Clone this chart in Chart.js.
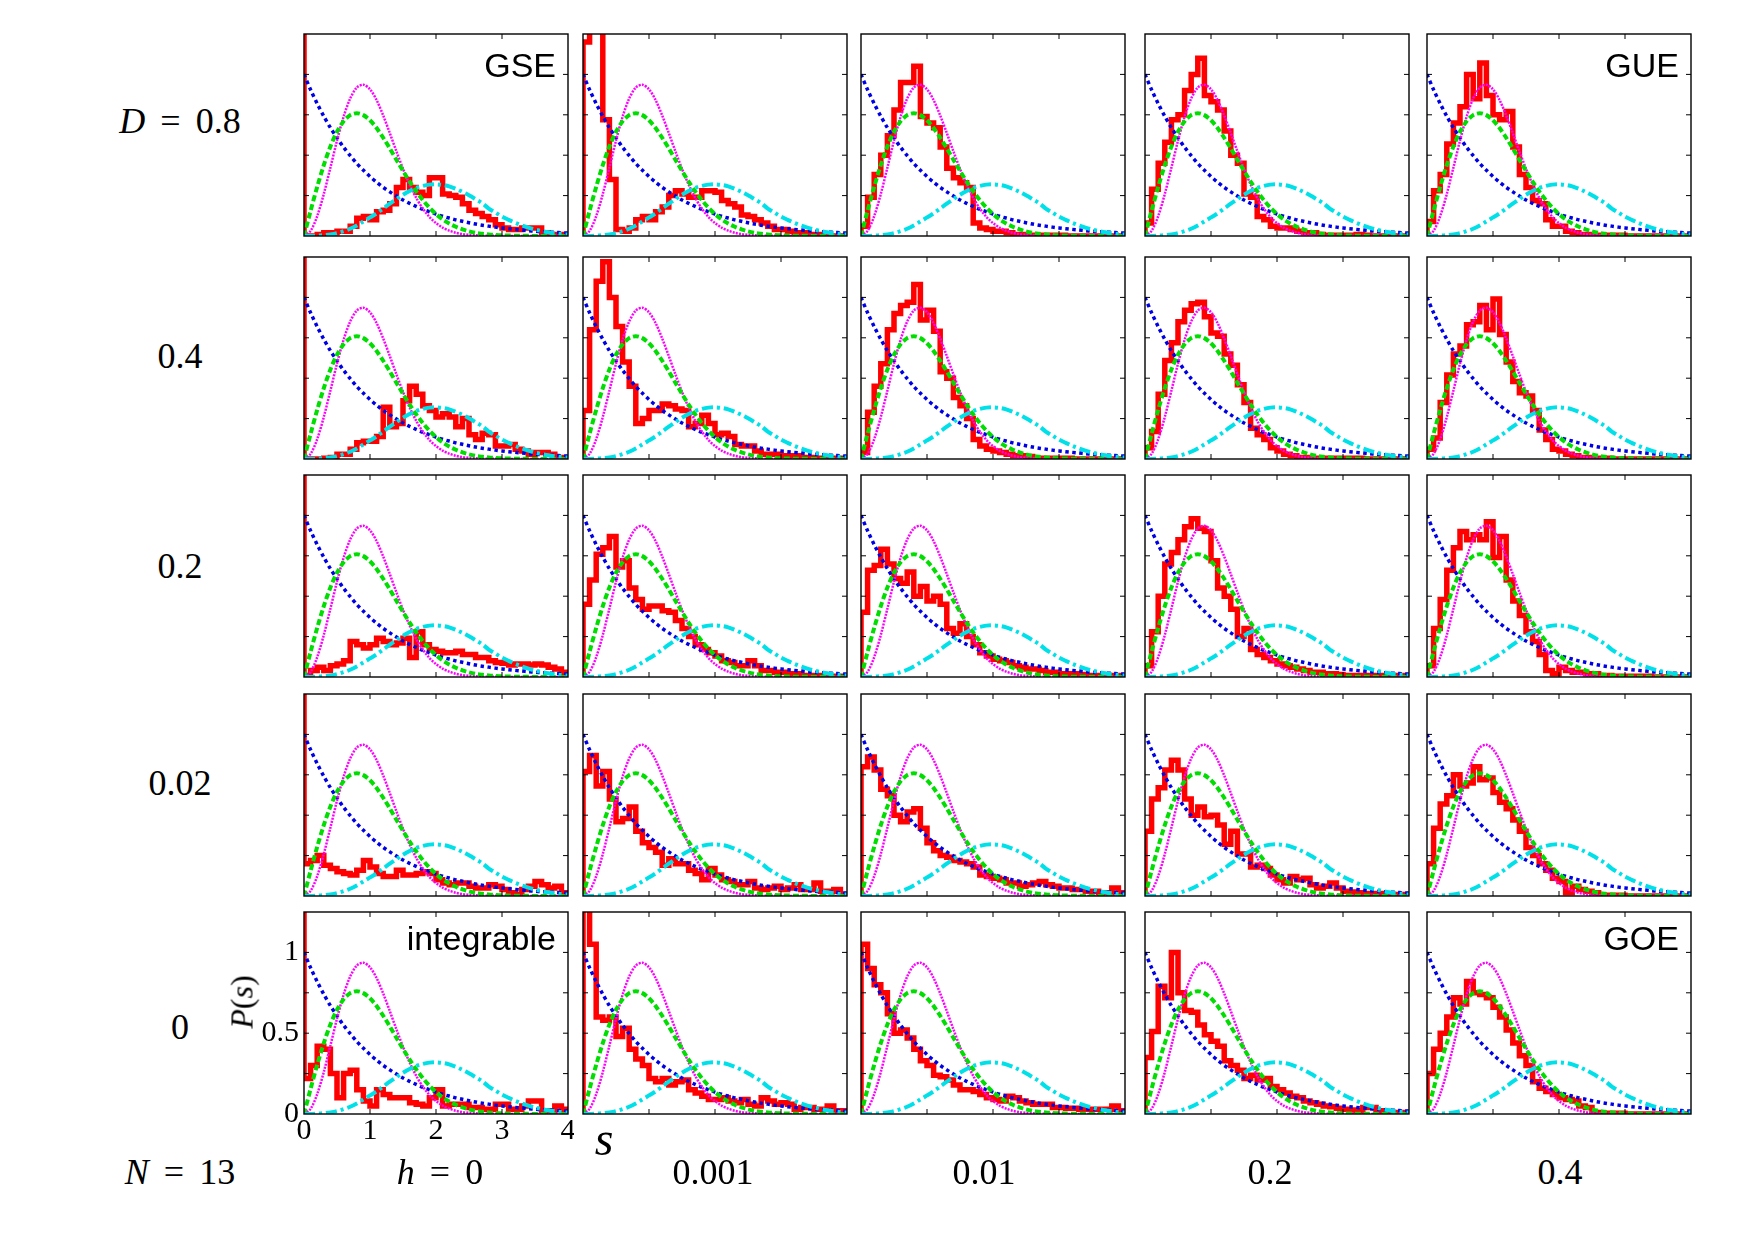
<!DOCTYPE html>
<html>
<head>
<meta charset="utf-8">
<script src="https://cdn.jsdelivr.net/npm/chart.js@4.4.0/dist/chart.umd.min.js"></script>
<style>
  body { margin: 0; background: #fff; }
  #fig { position: relative; width: 1754px; height: 1241px; background: #fff; overflow: hidden; }
  .panel { position: absolute; }
  .lbl { position: absolute; font-family: "Liberation Serif", serif; font-size: 36px; color: #000;
         transform: translate(-50%, -50%); white-space: nowrap; word-spacing: 6px; }
  .tag { position: absolute; font-family: "Liberation Sans", Arial, sans-serif; font-size: 34px; color: #000;
         white-space: nowrap; transform: translateY(-50%); }
</style>
</head>
<body>
<div id="fig"></div>
<script>
// s grid (bin edges and curve abscissae)
const sGrid = [0, 0.1, 0.2, 0.3, 0.4, 0.5, 0.6, 0.7, 0.8, 0.9, 1, 1.1, 1.2, 1.3, 1.4, 1.5, 1.6, 1.7, 1.8, 1.9,
  2, 2.1, 2.2, 2.3, 2.4, 2.5, 2.6, 2.7, 2.8, 2.9, 3, 3.1, 3.2, 3.3, 3.4, 3.5, 3.6, 3.7, 3.8, 3.9, 4];

// reference curves (same in every panel)
const poisson = [1, 0.905, 0.819, 0.741, 0.670, 0.607, 0.549, 0.497, 0.449, 0.407, 0.368, 0.333, 0.301, 0.273,
  0.247, 0.223, 0.202, 0.183, 0.165, 0.150, 0.135, 0.122, 0.111, 0.100, 0.091, 0.082, 0.074, 0.067, 0.061,
  0.055, 0.050, 0.045, 0.041, 0.037, 0.033, 0.030, 0.027, 0.025, 0.022, 0.020, 0.018];
const goe = [0, 0.156, 0.304, 0.439, 0.554, 0.645, 0.710, 0.748, 0.760, 0.748, 0.716, 0.668, 0.608, 0.542,
  0.472, 0.403, 0.337, 0.276, 0.222, 0.175, 0.136, 0.103, 0.077, 0.057, 0.041, 0.029, 0.020, 0.014, 0.009,
  0.006, 0.004, 0.003, 0.002, 0.001, 0.001, 0, 0, 0, 0, 0, 0];
const gue = [0, 0.032, 0.123, 0.260, 0.423, 0.590, 0.738, 0.851, 0.919, 0.936, 0.908, 0.841, 0.746, 0.637,
  0.524, 0.416, 0.319, 0.236, 0.170, 0.118, 0.080, 0.052, 0.033, 0.020, 0.012, 0.007, 0.004, 0.002, 0.001,
  0.001, 0, 0, 0, 0, 0, 0, 0, 0, 0, 0, 0];
const broad = [0, 0, 0.002, 0.005, 0.01, 0.018, 0.03, 0.045, 0.065, 0.09, 0.115, 0.14, 0.17, 0.2, 0.228,
  0.255, 0.278, 0.297, 0.31, 0.318, 0.32, 0.316, 0.307, 0.292, 0.273, 0.252, 0.228, 0.203, 0.17, 0.145,
  0.12, 0.1, 0.082, 0.066, 0.052, 0.04, 0.031, 0.023, 0.017, 0.012, 0.009];

// histograms, bin width 0.1 (rows: D, columns: h)
const histD08H0 = [0, 0, 0.01, 0.02, 0.02, 0.03, 0.03, 0.06, 0.11, 0.12, 0.1, 0.15, 0.16, 0.2, 0.3, 0.35, 0.3, 0.27, 0.25, 0.36,
  0.36, 0.26, 0.25, 0.24, 0.2, 0.16, 0.14, 0.12, 0.1, 0.07, 0.05, 0.04, 0.04, 0.05, 0.05, 0.05, 0.02, 0.01, 0.01, 0.01];
const histD08H0001 = [1.2, 1.4, 1.4, 0.72, 0.35, 0.04, 0.03, 0.05, 0.1, 0.12, 0.1, 0.15, 0.18, 0.25, 0.28, 0.26, 0.24, 0.24, 0.28, 0.28,
  0.27, 0.22, 0.2, 0.18, 0.13, 0.12, 0.1, 0.08, 0.06, 0.04, 0.04, 0.03, 0.02, 0.02, 0.01, 0.01, 0.005, 0, 0, 0];
const histD08H001 = [0.06, 0.24, 0.38, 0.5, 0.62, 0.78, 0.95, 0.95, 1.05, 0.74, 0.7, 0.67, 0.55, 0.42, 0.36, 0.33, 0.3, 0.08, 0.05, 0.04,
  0.03, 0.03, 0.02, 0.01, 0.01, 0.005, 0.005, 0.005, 0.005, 0.005, 0.005, 0, 0, 0, 0, 0, 0, 0, 0, 0];
const histD08H02 = [0.08, 0.29, 0.45, 0.58, 0.72, 0.75, 0.9, 1.0, 1.1, 0.87, 0.83, 0.78, 0.65, 0.5, 0.45, 0.26, 0.24, 0.12, 0.1, 0.06,
  0.05, 0.05, 0.04, 0.03, 0.02, 0.02, 0.01, 0.005, 0.005, 0.005, 0.005, 0.005, 0.01, 0.005, 0, 0, 0, 0, 0, 0];
const histD08H04 = [0.09, 0.28, 0.38, 0.57, 0.7, 0.8, 1.0, 0.85, 1.07, 0.87, 0.75, 0.72, 0.77, 0.55, 0.38, 0.3, 0.22, 0.2, 0.1, 0.06,
  0.06, 0.03, 0.02, 0.01, 0.01, 0.005, 0.005, 0.005, 0.005, 0.005, 0, 0, 0, 0, 0, 0, 0, 0, 0, 0];

const histD04H0 = [0, 0, 0, 0.005, 0.01, 0.03, 0.03, 0.06, 0.1, 0.11, 0.11, 0.14, 0.32, 0.2, 0.22, 0.36, 0.45, 0.4, 0.33, 0.3,
  0.26, 0.28, 0.26, 0.2, 0.25, 0.15, 0.12, 0.16, 0.15, 0.08, 0.08, 0.09, 0.06, 0.05, 0.03, 0.04, 0.04, 0.03, 0.01, 0.01];
const histD04H0001 = [0.3, 0.8, 1.1, 1.22, 1.0, 0.82, 0.6, 0.45, 0.22, 0.25, 0.3, 0.3, 0.34, 0.33, 0.31, 0.3, 0.2, 0.22, 0.27, 0.22,
  0.15, 0.16, 0.14, 0.09, 0.08, 0.08, 0.05, 0.03, 0.03, 0.03, 0.02, 0.02, 0.02, 0.01, 0.01, 0.005, 0.005, 0.005, 0.005, 0.005];
const histD04H001 = [0.04, 0.29, 0.45, 0.59, 0.8, 0.9, 0.95, 0.97, 1.08, 0.86, 0.92, 0.79, 0.54, 0.5, 0.38, 0.33, 0.25, 0.12, 0.08, 0.06,
  0.05, 0.04, 0.03, 0.02, 0.02, 0.015, 0.005, 0.005, 0.005, 0.005, 0.005, 0.005, 0, 0, 0, 0, 0, 0, 0, 0];
const histD04H02 = [0.07, 0.17, 0.4, 0.61, 0.72, 0.85, 0.92, 0.96, 0.97, 0.88, 0.78, 0.76, 0.65, 0.58, 0.46, 0.35, 0.19, 0.15, 0.12, 0.07,
  0.05, 0.03, 0.02, 0.01, 0.01, 0.005, 0.005, 0.005, 0.005, 0.005, 0.005, 0.005, 0.005, 0, 0, 0, 0, 0, 0, 0];
const histD04H04 = [0.06, 0.13, 0.35, 0.52, 0.65, 0.7, 0.83, 0.85, 0.95, 0.8, 0.99, 0.77, 0.6, 0.48, 0.41, 0.39, 0.3, 0.18, 0.12, 0.06,
  0.05, 0.03, 0.02, 0.01, 0.01, 0.005, 0.005, 0.005, 0, 0, 0, 0, 0, 0, 0, 0, 0, 0, 0, 0];

const histD02H0 = [0.01, 0.04, 0.06, 0.04, 0.07, 0.08, 0.1, 0.22, 0.2, 0.18, 0.2, 0.24, 0.22, 0.2, 0.21, 0.24, 0.12, 0.28, 0.2, 0.17,
  0.16, 0.15, 0.15, 0.16, 0.14, 0.14, 0.12, 0.12, 0.1, 0.09, 0.085, 0.075, 0.08, 0.08, 0.075, 0.08, 0.075, 0.06, 0.05, 0.03];
const histD02H0001 = [0.45, 0.6, 0.76, 0.8, 0.87, 0.68, 0.72, 0.55, 0.48, 0.42, 0.44, 0.44, 0.41, 0.4, 0.35, 0.3, 0.25, 0.2, 0.17, 0.15,
  0.13, 0.1, 0.09, 0.07, 0.07, 0.1, 0.07, 0.04, 0.04, 0.03, 0.03, 0.02, 0.02, 0.01, 0.01, 0.01, 0.005, 0.005, 0.005, 0.005];
const histD02H001 = [0.4, 0.66, 0.69, 0.79, 0.7, 0.61, 0.58, 0.65, 0.5, 0.56, 0.47, 0.5, 0.45, 0.3, 0.27, 0.33, 0.25, 0.2, 0.15, 0.13,
  0.11, 0.1, 0.09, 0.07, 0.06, 0.05, 0.05, 0.04, 0.03, 0.03, 0.02, 0.02, 0.02, 0.015, 0.01, 0.01, 0.01, 0.01, 0.01, 0.01];
const histD02H02 = [0.07, 0.28, 0.5, 0.7, 0.77, 0.85, 0.93, 0.98, 0.92, 0.9, 0.72, 0.55, 0.5, 0.42, 0.25, 0.3, 0.17, 0.14, 0.12, 0.1,
  0.08, 0.07, 0.06, 0.05, 0.04, 0.03, 0.03, 0.02, 0.02, 0.015, 0.01, 0.01, 0.01, 0.01, 0.01, 0.01, 0.01, 0.01, 0.01, 0.01];
const histD02H04 = [0.07, 0.3, 0.48, 0.66, 0.8, 0.9, 0.85, 0.88, 0.85, 0.96, 0.74, 0.87, 0.6, 0.47, 0.38, 0.28, 0.22, 0.14, 0.04, 0.02,
  0.06, 0.04, 0.03, 0.03, 0.02, 0.02, 0.01, 0.01, 0.005, 0.005, 0.005, 0.005, 0.005, 0.005, 0, 0, 0, 0, 0, 0];

const histD002H0 = [0.2, 0.22, 0.25, 0.19, 0.17, 0.15, 0.14, 0.13, 0.16, 0.22, 0.18, 0.14, 0.12, 0.12, 0.16, 0.13, 0.13, 0.14, 0.15, 0.14,
  0.1, 0.08, 0.07, 0.08, 0.08, 0.06, 0.05, 0.05, 0.07, 0.06, 0.04, 0.02, 0.01, 0.04, 0.06, 0.09, 0.07, 0.05, 0.06, 0.02];
const histD002H0001 = [0.77, 0.87, 0.68, 0.77, 0.6, 0.46, 0.48, 0.55, 0.4, 0.33, 0.3, 0.27, 0.19, 0.23, 0.2, 0.2, 0.16, 0.14, 0.1, 0.17,
  0.13, 0.1, 0.09, 0.07, 0.07, 0.09, 0.05, 0.04, 0.05, 0.06, 0.04, 0.05, 0.07, 0.04, 0.04, 0.08, 0.03, 0.03, 0.04, 0.01];
const histD002H001 = [0.8, 0.86, 0.78, 0.66, 0.62, 0.5, 0.46, 0.52, 0.54, 0.42, 0.33, 0.28, 0.25, 0.24, 0.22, 0.21, 0.2, 0.18, 0.13, 0.12,
  0.11, 0.1, 0.08, 0.08, 0.06, 0.07, 0.08, 0.09, 0.07, 0.06, 0.05, 0.05, 0.04, 0.04, 0.03, 0.03, 0.02, 0.02, 0.05, 0.02];
const histD002H02 = [0.4, 0.6, 0.67, 0.78, 0.84, 0.78, 0.6, 0.5, 0.55, 0.49, 0.5, 0.44, 0.32, 0.4, 0.26, 0.26, 0.18, 0.19, 0.17, 0.13,
  0.1, 0.08, 0.12, 0.1, 0.11, 0.07, 0.05, 0.06, 0.08, 0.05, 0.03, 0.025, 0.02, 0.015, 0.015, 0.015, 0.01, 0.01, 0.01, 0.01];
const histD002H04 = [0.2, 0.42, 0.57, 0.62, 0.75, 0.68, 0.7, 0.8, 0.72, 0.73, 0.64, 0.58, 0.54, 0.47, 0.4, 0.3, 0.25, 0.2, 0.16, 0.11,
  0.09, 0.02, 0.06, 0.04, 0.03, 0.02, 0.005, 0.005, 0.005, 0.005, 0, 0, 0, 0, 0, 0, 0, 0, 0, 0];

const histD0H0 = [0.22, 0.3, 0.42, 0.4, 0.25, 0.1, 0.25, 0.27, 0.15, 0.08, 0.05, 0.15, 0.12, 0.1, 0.1, 0.1, 0.07, 0.06, 0.05, 0.1,
  0.15, 0.05, 0.06, 0.06, 0.06, 0.04, 0.04, 0.03, 0.03, 0.06, 0.06, 0.03, 0.03, 0.05, 0.08, 0.08, 0.02, 0.02, 0.05, 0.03];
const histD0H0001 = [1.3, 1.05, 0.6, 0.58, 0.6, 0.48, 0.53, 0.4, 0.34, 0.3, 0.22, 0.2, 0.22, 0.18, 0.2, 0.21, 0.15, 0.13, 0.11, 0.09,
  0.09, 0.1, 0.08, 0.07, 0.09, 0.06, 0.05, 0.1, 0.08, 0.06, 0.07, 0.06, 0.03, 0.04, 0.04, 0.03, 0.03, 0.05, 0.02, 0.02];
const histD0H001 = [1.05, 0.9, 0.8, 0.75, 0.62, 0.5, 0.52, 0.47, 0.4, 0.33, 0.3, 0.24, 0.23, 0.21, 0.18, 0.15, 0.15, 0.14, 0.12, 0.1,
  0.09, 0.08, 0.11, 0.1, 0.08, 0.07, 0.06, 0.06, 0.06, 0.04, 0.04, 0.035, 0.035, 0.03, 0.03, 0.03, 0.03, 0.03, 0.05, 0.02];
const histD0H02 = [0.35, 0.51, 0.79, 0.72, 1.0, 0.75, 0.64, 0.63, 0.55, 0.49, 0.45, 0.42, 0.33, 0.3, 0.27, 0.22, 0.24, 0.21, 0.22, 0.17,
  0.15, 0.13, 0.11, 0.1, 0.08, 0.07, 0.06, 0.05, 0.045, 0.035, 0.03, 0.025, 0.02, 0.04, 0.04, 0.02, 0.015, 0.01, 0.01, 0.01];
const histD0H04 = [0.25, 0.4, 0.5, 0.6, 0.72, 0.68, 0.82, 0.75, 0.74, 0.72, 0.66, 0.6, 0.52, 0.44, 0.36, 0.3, 0.2, 0.16, 0.14, 0.12,
  0.1, 0.09, 0.08, 0.05, 0.04, 0.01, 0.005, 0.005, 0.005, 0.005, 0, 0, 0, 0, 0, 0, 0, 0, 0, 0];

const histGrid = [
  [histD08H0, histD08H0001, histD08H001, histD08H02, histD08H04],
  [histD04H0, histD04H0001, histD04H001, histD04H02, histD04H04],
  [histD02H0, histD02H0001, histD02H001, histD02H02, histD02H04],
  [histD002H0, histD002H0001, histD002H001, histD002H02, histD002H04],
  [histD0H0, histD0H0001, histD0H001, histD0H02, histD0H04],
];
// h = 0 column has a tall spike at s = 0
const spikeHeight = [3, 0, 0, 0, 0];

const rowLabels = ['<i>D</i> = 0.8', '0.4', '0.2', '0.02', '0'];
const colLabels = ['<i>h</i> = 0', '0.001', '0.01', '0.2', '0.4'];
const xTickMarks = [1, 2, 3];
const yTickMarks = [0.25, 0.5, 0.75, 1];
const xTickLabels = [0, 1, 2, 3, 4];
const yTickLabels = [0, 0.5, 1];

// layout
const colLeft = [304, 583, 861, 1145, 1427];
const rowTop = [34, 257, 475, 694, 912];
const panelW = 264, panelH = 202;
const rowLabelY = [121, 356, 566, 783, 1027];
const colLabelX = [440, 713, 984, 1270, 1560];

const fig = document.getElementById('fig');

function addText(cls, html, x, y, extra) {
  const d = document.createElement('div');
  d.className = cls;
  d.innerHTML = html;
  d.style.left = x + 'px';
  d.style.top = y + 'px';
  if (extra) Object.assign(d.style, extra);
  fig.appendChild(d);
  return d;
}

const framePlugin = {
  id: 'frame',
  afterDraw(chart, args, opts) {
    const { ctx, chartArea: a } = chart;
    const xs = chart.scales.x, ys = chart.scales.y;
    ctx.save();
    ctx.strokeStyle = '#000';
    ctx.lineWidth = 1.4;
    ctx.strokeRect(a.left, a.top, a.right - a.left, a.bottom - a.top);
    ctx.lineWidth = 1;
    ctx.beginPath();
    yTickMarks.forEach(v => {
      const py = ys.getPixelForValue(v);
      ctx.moveTo(a.left, py); ctx.lineTo(a.left + 5, py);
      ctx.moveTo(a.right, py); ctx.lineTo(a.right - 5, py);
    });
    xTickMarks.forEach(v => {
      const px = xs.getPixelForValue(v);
      ctx.moveTo(px, a.bottom); ctx.lineTo(px, a.bottom - 5);
      ctx.moveTo(px, a.top); ctx.lineTo(px, a.top + 5);
    });
    ctx.stroke();
    if (opts.labels) {
      ctx.fillStyle = '#000';
      ctx.font = '30px "Liberation Serif"';
      ctx.textAlign = 'right';
      ctx.textBaseline = 'middle';
      yTickLabels.forEach(v => ctx.fillText(String(v), a.left - 5, ys.getPixelForValue(v)));
      ctx.textAlign = 'center';
      xTickLabels.forEach(v => ctx.fillText(String(v), xs.getPixelForValue(v), a.bottom + 17));
    }
    ctx.restore();
  }
};

function curve(vals, color, width, dash) {
  return {
    data: vals.map((v, i) => ({ x: sGrid[i], y: v })),
    borderColor: color, borderWidth: width, borderDash: dash,
    pointRadius: 0, tension: 0.3, fill: false, order: 1,
  };
}

function histogram(vals, spike) {
  const pts = [{ x: 0, y: spike }];
  vals.forEach((v, i) => pts.push({ x: sGrid[i], y: v }));
  pts.push({ x: sGrid[vals.length], y: vals[vals.length - 1] });
  return {
    data: pts, stepped: true,
    borderColor: '#ff0000', borderWidth: 5.5, borderJoinStyle: 'miter',
    pointRadius: 0, fill: false, order: 10,
  };
}

for (let r = 0; r < 5; r++) {
  for (let c = 0; c < 5; c++) {
    const corner = (r === 4 && c === 0);
    const pad = corner ? { left: 50, right: 6, top: 6, bottom: 40 } : { left: 6, right: 6, top: 6, bottom: 6 };
    const w = panelW + pad.left + pad.right, h = panelH + pad.top + pad.bottom;
    const box = document.createElement('div');
    box.className = 'panel';
    box.style.left = (colLeft[c] - pad.left) + 'px';
    box.style.top = (rowTop[r] - pad.top) + 'px';
    box.style.width = w + 'px';
    box.style.height = h + 'px';
    const cv = document.createElement('canvas');
    cv.width = w; cv.height = h;
    cv.style.width = w + 'px'; cv.style.height = h + 'px';
    box.appendChild(cv);
    fig.appendChild(box);

    new Chart(cv, {
      type: 'line',
      data: {
        datasets: [
          histogram(histGrid[r][c], spikeHeight[c]),
          curve(broad, '#00e0e8', 4, [11, 4, 3, 4]),
          curve(goe, '#00dd00', 4, [6, 3]),
          curve(gue, '#ff00ff', 2.5, [2, 1.2]),
          curve(poisson, '#0000e6', 3.5, [3.5, 3.5]),
        ],
      },
      options: {
        animation: false,
        responsive: false,
        events: [],
        layout: { padding: pad },
        plugins: {
          legend: { display: false },
          tooltip: { enabled: false },
          frame: { labels: corner },
        },
        scales: {
          x: { type: 'linear', min: 0, max: 4, display: false },
          y: { type: 'linear', min: 0, max: 1.25, display: false },
        },
      },
      plugins: [framePlugin],
    });
  }
}

// row and column labels
rowLabels.forEach((t, r) => addText('lbl', t, 180, rowLabelY[r]));
addText('lbl', '<i>N</i> = 13', 180, 1172);
colLabels.forEach((t, c) => addText('lbl', t, colLabelX[c], 1172));

// axis titles of the corner panel
addText('lbl', '<i>P</i>(<i>s</i>)', 242, 1002, { fontSize: '32px', wordSpacing: '0', transform: 'translate(-50%, -50%) rotate(-90deg)' });
addText('lbl', '<i>s</i>', 604, 1138, { fontSize: '48px' });

// ensemble tags
function tag(text, r, c, dy) {
  const d = addText('tag', text, 0, rowTop[r] + dy);
  d.style.left = '';
  d.style.right = (1754 - (colLeft[c] + panelW) + 12) + 'px';
}
tag('GSE', 0, 0, 31);
tag('GUE', 0, 4, 31);
tag('integrable', 4, 0, 26);
tag('GOE', 4, 4, 26);
</script>
</body>
</html>
